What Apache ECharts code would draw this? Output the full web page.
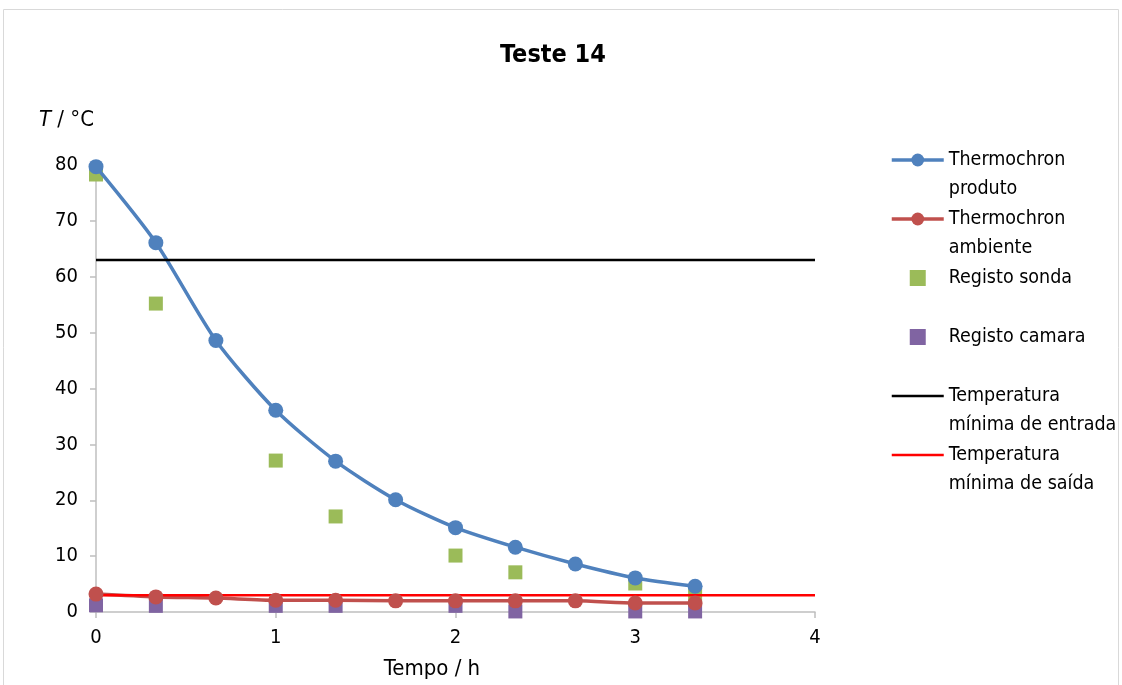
<!DOCTYPE html>
<html>
<head>
<meta charset="utf-8">
<script src="https://cdn.jsdelivr.net/npm/echarts@6/dist/echarts.min.js"></script>
<style>
  html, body { margin: 0; padding: 0; background: #ffffff; }
  #chart { width: 1122px; height: 685px; }
</style>
</head>
<body>
<div id="chart"></div>
<script>
// Time stamps (h) of the Thermochron loggers, every 20 min
const loggerHours = [0, 0.333, 0.667, 1, 1.333, 1.667, 2, 2.333, 2.667, 3, 3.333];
// Product and ambient temperatures (°C)
const thermoProduto = [79.7, 66.1, 48.6, 36.1, 27.0, 20.1, 15.1, 11.6, 8.6, 6.1, 4.6];
const thermoAmbiente = [3.2, 2.7, 2.5, 2.1, 2.1, 2.0, 2.0, 2.0, 2.0, 1.6, 1.6];

// Manual readings (probe and chamber)
const registoHours = [0, 0.333, 1, 1.333, 2, 2.333, 3, 3.333];
const registoSonda = [78.3, 55.2, 27.1, 17.1, 10.1, 7.1, 5.1, 3.0];
const registoCamara = [1.2, 1.1, 1.1, 1.1, 1.1, 0.1, 0.1, 0.1];

// Reference limits (°C) drawn across the time span
const limitHours = [0, 4];
const tempMinEntrada = 63;
const tempMinSaida = 3;

const seriesNames = [
  'Thermochron produto',
  'Thermochron ambiente',
  'Registo sonda',
  'Registo camara',
  'Temperatura mínima de entrada',
  'Temperatura mínima de saída'
];
// Legend labels: a leading blank line keeps the icon level with the first text line
const legendLabels = {
  'Thermochron produto': '\nThermochron\nproduto',
  'Thermochron ambiente': '\nThermochron\nambiente',
  'Registo sonda': '\nRegisto sonda\n ',
  'Registo camara': '\nRegisto camara\n ',
  'Temperatura mínima de entrada': '\nTemperatura\nmínima de entrada',
  'Temperatura mínima de saída': '\nTemperatura\nmínima de saída'
};

const zip = (xs, ys) => xs.map((x, i) => [x, ys[i]]);
const FONT = '"Liberation Sans Narrow", "DejaVu Sans Condensed", "Noto Sans", sans-serif';
const lineIcon = 'path://M0,0H52V2.5H0Z';
const squareIcon = 'path://M0,0H14V14H0Z';

const chart = echarts.init(document.getElementById('chart'), null, { renderer: 'canvas' });

chart.setOption({
  animation: false,
  textStyle: { fontFamily: FONT },
  title: {
    text: 'Teste 14',
    left: 548,
    textAlign: 'center',
    top: 38,
    textStyle: { fontFamily: FONT, fontSize: 25, fontWeight: 'bold', color: '#000' }
  },
  graphic: [{
    type: 'rect',
    shape: { x: 3.5, y: 9.5, width: 1115, height: 690 },
    style: { fill: 'none', stroke: '#d9d9d9', lineWidth: 1 },
    silent: true,
    z: -10
  }],
  grid: { left: 96, right: 307, top: 165, bottom: 72, containLabel: false },
  legend: {
    orient: 'vertical',
    left: 890,
    top: 116.5,
    padding: 0,
    itemWidth: 52,
    itemHeight: 16,
    itemGap: -28,
    selectedMode: false,
    formatter: name => legendLabels[name],
    textStyle: { fontFamily: FONT, fontSize: 19.5, color: '#000', lineHeight: 29 },
    data: [
      { name: seriesNames[0], lineStyle: { width: 3.5 } },
      { name: seriesNames[1], lineStyle: { width: 3.5 } },
      { name: seriesNames[2], icon: squareIcon },
      { name: seriesNames[3], icon: squareIcon },
      { name: seriesNames[4], icon: lineIcon },
      { name: seriesNames[5], icon: lineIcon }
    ]
  },
  xAxis: {
    type: 'value',
    min: 0, max: 4, interval: 1,
    name: 'Tempo / h',
    nameLocation: 'middle',
    nameGap: 57,
    nameTextStyle: { fontFamily: FONT, fontSize: 22, color: '#000', padding: [0, 47, 0, 0], verticalAlign: 'middle' },
    axisLine: { lineStyle: { color: '#bfbfbf', width: 1.5 } },
    axisTick: { show: true, length: 6, lineStyle: { color: '#bfbfbf', width: 1.5 } },
    axisLabel: { fontFamily: FONT, fontSize: 20, color: '#000', margin: 16 },
    splitLine: { show: false }
  },
  yAxis: {
    type: 'value',
    min: 0, max: 80, interval: 10,
    name: '{i|T} / °C',
    nameLocation: 'end',
    nameGap: 45,
    nameTextStyle: {
      fontFamily: FONT, fontSize: 22, color: '#000', align: 'right', verticalAlign: 'middle',
      padding: [0, 2, 0, 0],
      rich: { i: { fontFamily: FONT, fontSize: 22, fontStyle: 'italic', color: '#000' } }
    },
    axisLine: { show: true, lineStyle: { color: '#bfbfbf', width: 1.5 } },
    axisTick: { show: true, length: 6, lineStyle: { color: '#bfbfbf', width: 1.5 } },
    axisLabel: { fontFamily: FONT, fontSize: 20, color: '#000', margin: 18 },
    splitLine: { show: false }
  },
  series: [
    {
      name: seriesNames[0],
      type: 'line',
      data: zip(loggerHours, thermoProduto),
      smooth: 0.25,
      symbol: 'circle',
      symbolSize: 15,
      itemStyle: { color: '#4F81BD' },
      lineStyle: { color: '#4F81BD', width: 3.5 }
    },
    {
      name: seriesNames[1],
      type: 'line',
      data: zip(loggerHours, thermoAmbiente),
      smooth: 0.25,
      symbol: 'circle',
      symbolSize: 15,
      itemStyle: { color: '#C0504D' },
      lineStyle: { color: '#C0504D', width: 3.5 }
    },
    {
      name: seriesNames[2],
      type: 'scatter',
      data: zip(registoHours, registoSonda),
      symbol: 'rect',
      symbolSize: 14,
      itemStyle: { color: '#9BBB59', opacity: 1 }
    },
    {
      name: seriesNames[3],
      type: 'scatter',
      data: zip(registoHours, registoCamara),
      symbol: 'rect',
      symbolSize: 14,
      itemStyle: { color: '#8064A2', opacity: 1 }
    },
    {
      name: seriesNames[4],
      type: 'line',
      data: zip(limitHours, [tempMinEntrada, tempMinEntrada]),
      symbol: 'none',
      itemStyle: { color: '#000000' },
      lineStyle: { color: '#000000', width: 2.5 }
    },
    {
      name: seriesNames[5],
      type: 'line',
      data: zip(limitHours, [tempMinSaida, tempMinSaida]),
      symbol: 'none',
      itemStyle: { color: '#FF0000' },
      lineStyle: { color: '#FF0000', width: 2.5 }
    }
  ]
});
</script>
</body>
</html>
